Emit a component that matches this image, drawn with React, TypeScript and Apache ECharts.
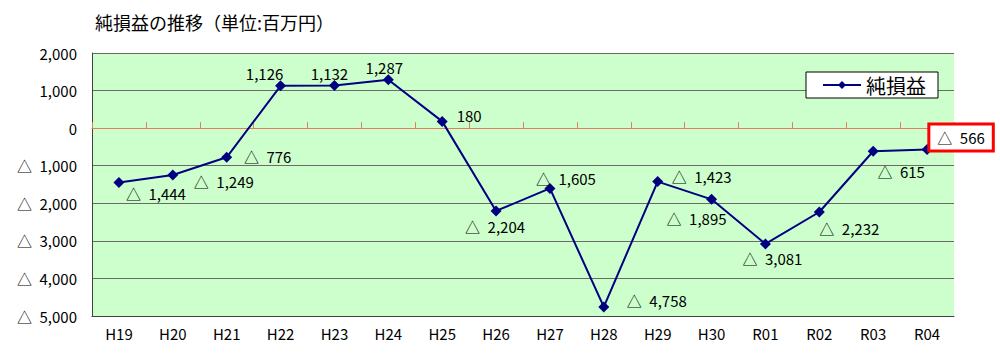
import React, { useEffect, useRef } from "react";
import * as echarts from "echarts";

const categories = ["H19", "H20", "H21", "H22", "H23", "H24", "H25", "H26", "H27", "H28", "H29", "H30", "R01", "R02", "R03", "R04"];
const netProfit = [-1444, -1249, -776, 1126, 1132, 1287, 180, -2204, -1605, -4758, -1423, -1895, -3081, -2232, -615, -566];
const labelOffsets: number[][] = [
  [37, 11], [51, 6], [41, -1], [-16, -12], [-5, -12], [-4, -12], [27, -6], [-1, 16],
  [16, -10], [53, -6], [44, -5], [-15, 19], [7, 15], [30, 16], [28, 20], [34, -12],
];
const highlightIndex = 15;

const FONT = "'Noto Sans CJK JP', 'Liberation Sans', sans-serif";

const fmt = (v: number) => {
  if (v === 0) return "0";
  const s = Math.abs(v).toLocaleString("en-US");
  return v < 0 ? "△\u2002" + s : s;
};

export default function App() {
  const ref = useRef<HTMLDivElement>(null);
  useEffect(() => {
    if (!ref.current) return;
    const chart = echarts.init(ref.current, null, { renderer: "svg" });
    chart.setOption({
      animation: false,
      backgroundColor: "#ffffff",
      textStyle: { fontFamily: FONT },
      title: {
        text: "純損益の推移（単位:百万円）",
        left: 90,
        top: 8,
        textStyle: { fontFamily: FONT, fontSize: 18, fontWeight: "normal", color: "#000" },
      },
      legend: {
        left: 806,
        top: 72,
        padding: [3, 12, 3, 16],
        backgroundColor: "#ffffff",
        borderColor: "#000",
        borderWidth: 1,
        itemWidth: 38,
        itemHeight: 10,
        itemGap: 5,
        textStyle: { fontFamily: FONT, fontSize: 20, color: "#000" },
        data: ["純損益"],
      },
      grid: {
        left: 92,
        right: 46,
        top: 53,
        bottom: 42,
        show: true,
        backgroundColor: "#ccffcc",
        borderWidth: 0,
      },
      xAxis: [
        {
          type: "category",
          data: categories,
          position: "bottom",
          axisLine: { show: true, onZero: false, lineStyle: { color: "#404040", width: 1 } },
          axisTick: { show: false },
          axisLabel: { fontFamily: FONT, fontSize: 15, color: "#000", margin: 10 },
        },
        {
          type: "category",
          data: categories,
          position: "bottom",
          axisLine: { show: true, onZero: true, lineStyle: { color: "#e0805a", width: 1 } },
          axisTick: { show: true, inside: true, length: 6, lineStyle: { color: "#e0805a" } },
          axisLabel: { show: false },
        },
      ],
      yAxis: {
        type: "value",
        min: -5000,
        max: 2000,
        interval: 1000,
        axisLine: { show: true, lineStyle: { color: "#404040", width: 1 } },
        axisTick: { show: false },
        splitLine: { show: true, lineStyle: { color: "#6a6a6a", width: 1 } },
        axisLabel: {
          fontFamily: FONT,
          fontSize: 15,
          color: "#000",
          margin: 15,
          formatter: (v: number) => fmt(v),
        },
      },
      series: [
        {
          name: "純損益",
          type: "line",
          xAxisIndex: 0,
          data: netProfit.map((v, i) => ({
            value: v,
            label: {
              offset: labelOffsets[i],
              ...(i === highlightIndex
                ? { borderColor: "#ff0000", borderWidth: 3, padding: [5, 7, 4, 7], backgroundColor: "#ffffff" }
                : {}),
            },
          })),
          symbol: "diamond",
          symbolSize: 11,
          lineStyle: { color: "#000080", width: 2 },
          itemStyle: { color: "#000080" },
          label: {
            show: true,
            position: "inside",
            align: "center",
            verticalAlign: "middle",
            fontFamily: FONT,
            fontSize: 15,
            color: "#000",
            formatter: (p: any) => fmt(p.value),
          },
          z: 5,
        },
      ],
    });
    return () => chart.dispose();
  }, []);
  return (
    <div
      ref={ref}
      style={{ position: "fixed", left: 0, top: 0, width: 1000, height: 358 }}
    />
  );
}
